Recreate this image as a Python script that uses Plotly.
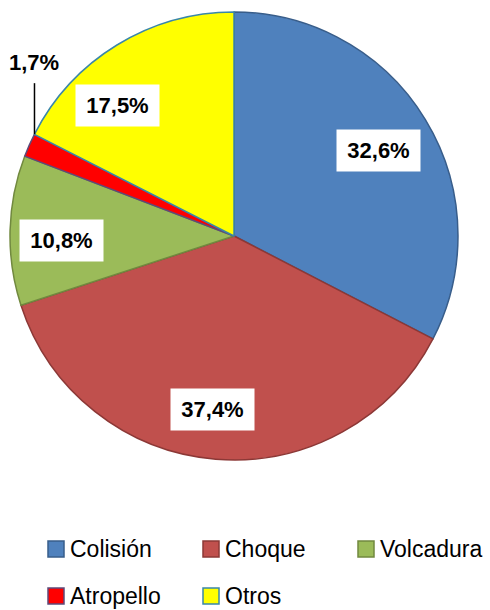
import math
import plotly.graph_objects as go

# tipos de accidente (%)
categorias = ["Colisión", "Choque", "Volcadura", "Atropello", "Otros"]
porcentajes = [32.6, 37.4, 10.8, 1.7, 17.5]
etiquetas = ["32,6%", "37,4%", "10,8%", "1,7%", "17,5%"]

colores = ["#4F81BD", "#C0504D", "#9BBB59", "#FF0000", "#FFFF00"]
bordes = ["#385D8A", "#8C3836", "#71893F", "#5E4A7A", "#3A87A8"]

W, H = 490, 610
cx, cy, R = 234, 236, 224          # pie centre / radius in px
label_r = [0.75, 0.78, 0.77, 1.0, 0.78]
label_turn = [0.7, 2.5, -3.1, 3.1, -10.2]   # small angular nudges (deg)

fig = go.Figure(go.Pie(
    labels=categorias,
    values=porcentajes,
    sort=False,
    direction="clockwise",
    rotation=0,
    textinfo="none",
    showlegend=False,
    marker=dict(colors=colores, line=dict(color=bordes, width=1.5)),
    domain=dict(x=[(cx - R) / W, (cx + R) / W], y=[1 - (cy + R) / H, 1 - (cy - R) / H]),
))

lab_font = dict(family="Liberation Sans", size=22, color="black")

total = sum(porcentajes)
acum = 0
for i, (v, txt) in enumerate(zip(porcentajes, etiquetas)):
    mid = (acum + v / 2) / total * 360 + label_turn[i]
    acum += v
    a = math.radians(mid)
    px = cx + math.sin(a) * R * label_r[i]
    py = cy - math.cos(a) * R * label_r[i]
    if v < 5:
        # small slice: leader line going up, label above
        top = py - 51
        fig.add_shape(type="line", xref="paper", yref="paper",
                      x0=px / W, y0=1 - py / H, x1=px / W, y1=1 - top / H,
                      line=dict(color="black", width=1.5))
        fig.add_annotation(x=px / W, y=1 - (top - 21) / H, xref="paper", yref="paper",
                           xanchor="center", yanchor="middle",
                           text="<b>%s</b>" % txt, showarrow=False, font=lab_font)
    else:
        fig.add_annotation(x=px / W, y=1 - py / H, xref="paper", yref="paper",
                           xanchor="center", yanchor="middle",
                           text="<b>%s</b>" % txt, showarrow=False,
                           width=81, height=39, borderpad=1, bgcolor="white",
                           font=lab_font)

# legend drawn by hand: 3 columns, 16px squares
for i, (nombre, c, b) in enumerate(zip(categorias, colores, bordes)):
    x0 = 48 + (i % 3) * 155
    yc = 549 + (i // 3) * 47
    fig.add_shape(type="rect", xref="paper", yref="paper",
                  x0=x0 / W, x1=(x0 + 16) / W, y0=1 - (yc - 8) / H, y1=1 - (yc + 8) / H,
                  fillcolor=c, line=dict(color=b, width=1.5))
    fig.add_annotation(x=(x0 + 20) / W, y=1 - yc / H, xref="paper", yref="paper",
                       xanchor="left", yanchor="middle", showarrow=False,
                       text=nombre, font=dict(family="Liberation Sans", size=23, color="black"))

fig.update_layout(
    width=W, height=H,
    margin=dict(l=0, r=0, t=0, b=0),
    paper_bgcolor="white",
    showlegend=False,
)

fig.write_html("out.html", config={"displayModeBar": False},
               post_script="document.body.style.margin='0';")
